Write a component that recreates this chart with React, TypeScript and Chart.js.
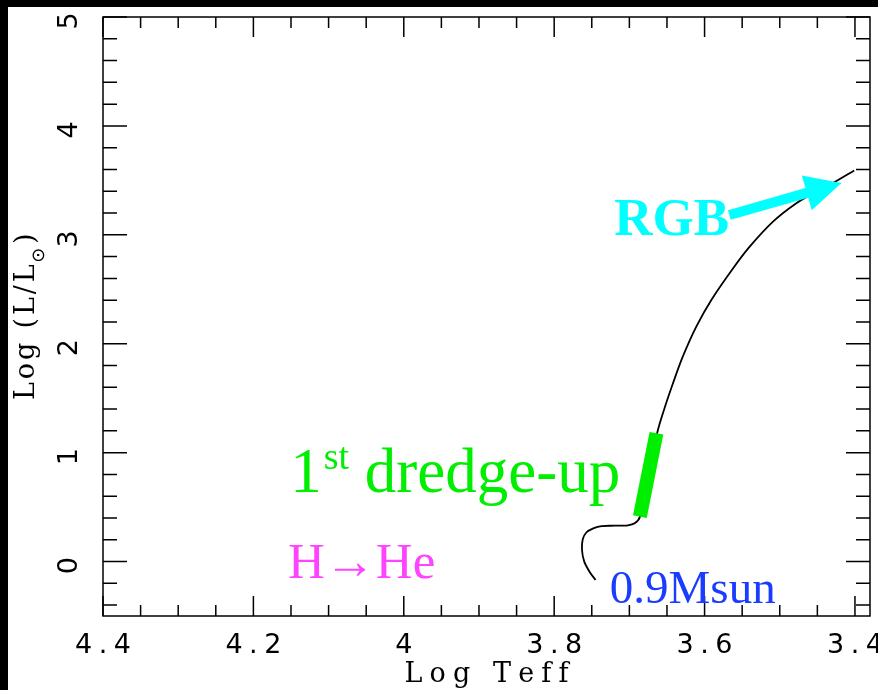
import React, { useEffect, useRef } from 'react';
import { Chart, registerables } from 'chart.js';

Chart.register(...registerables);

// Evolutionary track of a 0.9 Msun star: log Teff vs log(L/Lsun)
const trackLogTeff = [3.745, 3.753, 3.760, 3.763, 3.762, 3.757, 3.748, 3.737, 3.720, 3.702, 3.693, 3.686, 3.663, 3.654, 3.642, 3.629, 3.611, 3.591, 3.562, 3.540, 3.509, 3.478, 3.452, 3.430, 3.401];
const trackLogL = [-0.169, -0.093, -0.001, 0.106, 0.204, 0.269, 0.305, 0.326, 0.329, 0.333, 0.351, 0.412, 1.181, 1.392, 1.637, 1.881, 2.157, 2.402, 2.693, 2.891, 3.121, 3.290, 3.396, 3.473, 3.591];

// 1st dredge-up segment (thick green)
const dredgeLogTeff = [3.686, 3.664];
const dredgeLogL = [0.412, 1.178];

// Axes
const xTickValues = [4.4, 4.2, 4.0, 3.8, 3.6, 3.4];
const xTickLabels = ['4.4', '4.2', '4', '3.8', '3.6', '3.4'];
const yTickValues = [0, 1, 2, 3, 4, 5];
const yTickLabels = ['0', '1', '2', '3', '4', '5'];
const X_MIN = 3.38;
const X_MAX = 4.4;
const Y_MIN = -0.5;
const Y_MAX = 5;
const X_MINOR = 0.05;
const Y_MINOR = 0.2;

function charsOf(t: string) {
  return Array.from(t);
}
function spacedWidth(ctx: CanvasRenderingContext2D, text: string, ls: number) {
  const cs = charsOf(text);
  let w = 0;
  for (const c of cs) w += ctx.measureText(c).width;
  return w + ls * (cs.length - 1);
}
function drawSpaced(ctx: CanvasRenderingContext2D, text: string, x: number, y: number, ls: number) {
  let cx = x;
  for (const c of charsOf(text)) {
    ctx.fillText(c, cx, y);
    cx += ctx.measureText(c).width + ls;
  }
  return cx - ls;
}
function drawSpacedCentered(ctx: CanvasRenderingContext2D, text: string, cx: number, y: number, ls: number) {
  const w = spacedWidth(ctx, text, ls);
  ctx.textAlign = 'left';
  drawSpaced(ctx, text, cx - w / 2, y, ls);
}

const TICK_FONT = '27px "DejaVu Sans"';
const TITLE_FONT = '27px "DejaVu Serif"';

const framePlugin = {
  id: 'pgplotFrame',
  afterDraw(chart: any) {
    const { ctx, chartArea } = chart;
    const { left, right, top, bottom } = chartArea;
    const xs = chart.scales.x;
    const ys = chart.scales.y;
    const X = (v: number) => xs.getPixelForValue(v);
    const Y = (v: number) => ys.getPixelForValue(v);
    ctx.save();

    // frame
    ctx.strokeStyle = '#000';
    ctx.lineWidth = 1.5;
    ctx.strokeRect(left, top, right - left, bottom - top);

    // ticks
    ctx.beginPath();
    const isMajor = (vals: number[], v: number) => vals.some((t) => Math.abs(t - v) < 1e-6);
    for (const v of xTickValues) {
      const p = X(v);
      ctx.moveTo(p, bottom); ctx.lineTo(p, bottom - 20);
      ctx.moveTo(p, top); ctx.lineTo(p, top + 20);
    }
    for (let k = Math.ceil(X_MIN / X_MINOR - 1e-6); k * X_MINOR <= X_MAX + 1e-9; k++) {
      const v = k * X_MINOR;
      if (isMajor(xTickValues, v) || v <= X_MIN + 1e-6 || v >= X_MAX - 1e-6) continue;
      const p = X(v);
      ctx.moveTo(p, bottom); ctx.lineTo(p, bottom - 11);
      ctx.moveTo(p, top); ctx.lineTo(p, top + 11);
    }
    for (const v of yTickValues) {
      const p = Y(v);
      ctx.moveTo(left, p); ctx.lineTo(left + 24, p);
      ctx.moveTo(right, p); ctx.lineTo(right - 24, p);
    }
    for (let k = Math.ceil(Y_MIN / Y_MINOR - 1e-6); k * Y_MINOR <= Y_MAX + 1e-9; k++) {
      const v = k * Y_MINOR;
      if (isMajor(yTickValues, v) || v <= Y_MIN + 1e-6 || v >= Y_MAX - 1e-6) continue;
      const p = Y(v);
      ctx.moveTo(left, p); ctx.lineTo(left + 14, p);
      ctx.moveTo(right, p); ctx.lineTo(right - 14, p);
    }
    ctx.stroke();

    // tick labels
    ctx.fillStyle = '#000';
    ctx.font = TICK_FONT;
    ctx.textBaseline = 'middle';
    xTickValues.forEach((v, i) => {
      drawSpacedCentered(ctx, xTickLabels[i], X(v), bottom + 30, 6.5);
    });
    yTickValues.forEach((v, i) => {
      ctx.save();
      ctx.translate(left - 33, Y(v) + 4);
      ctx.rotate(-Math.PI / 2);
      drawSpacedCentered(ctx, yTickLabels[i], 0, 0, 0);
      ctx.restore();
    });

    // axis titles
    ctx.textBaseline = 'alphabetic';
    ctx.font = TITLE_FONT;
    const xTitle = 'Log Teff';
    const w0 = spacedWidth(ctx, xTitle, 0);
    const lsX = (164 - w0) / (charsOf(xTitle).length - 1);
    drawSpacedCentered(ctx, xTitle, (left + right) / 2, bottom + 66, lsX);

    // y title: Log (L/L_sun)
    ctx.save();
    ctx.translate(left - 69, (top + bottom) / 2);
    ctx.rotate(-Math.PI / 2);
    const partA = 'Log (L/L';
    const partSub = '\u2299';
    const partC = ')';
    ctx.font = TITLE_FONT;
    const wa = spacedWidth(ctx, partA, 0);
    const wc = ctx.measureText(partC).width;
    ctx.font = '18px "DejaVu Sans"';
    const wsub = ctx.measureText(partSub).width;
    const nGaps = charsOf(partA).length + 1;
    const lsY = Math.max(0, (167 - wa - wc - wsub) / nGaps);
    const total = wa + wc + wsub + lsY * nGaps;
    let cx = -total / 2;
    ctx.font = TITLE_FONT;
    cx = drawSpaced(ctx, partA, cx, 0, lsY) + lsY * 0.6;
    ctx.font = '18px "DejaVu Sans"';
    ctx.fillText(partSub, cx, 10);
    cx += wsub + lsY * 1.2;
    ctx.font = TITLE_FONT;
    ctx.fillText(partC, cx, 0);
    ctx.restore();

    // annotations
    ctx.textAlign = 'left';
    ctx.textBaseline = 'alphabetic';

    // RGB label + arrow
    ctx.fillStyle = '#00ffff';
    ctx.font = 'bold 53px "Liberation Serif"';
    ctx.fillText('RGB', X(3.72), Y(3.0));
    const tail = { x: X(3.567), y: Y(3.182) };
    const tip = { x: X(3.418), y: Y(3.476) };
    const dx = tip.x - tail.x;
    const dy = tip.y - tail.y;
    const L = Math.hypot(dx, dy);
    const ux = dx / L, uy = dy / L;
    const px = -uy, py = ux;
    const headLen = 36, headHalf = 18, shaftHalf = 5;
    const bx = tip.x - ux * headLen, by = tip.y - uy * headLen;
    ctx.beginPath();
    ctx.moveTo(tail.x + px * shaftHalf, tail.y + py * shaftHalf);
    ctx.lineTo(bx + px * shaftHalf, by + py * shaftHalf);
    ctx.lineTo(bx + px * headHalf, by + py * headHalf);
    ctx.lineTo(tip.x, tip.y);
    ctx.lineTo(bx - px * headHalf, by - py * headHalf);
    ctx.lineTo(bx - px * shaftHalf, by - py * shaftHalf);
    ctx.lineTo(tail.x - px * shaftHalf, tail.y - py * shaftHalf);
    ctx.closePath();
    ctx.fill();

    // 1st dredge-up
    ctx.fillStyle = '#00ee00';
    let tx = X(4.151);
    const tyBase = Y(0.639);
    ctx.font = '63px "Liberation Serif"';
    ctx.fillText('1', tx, tyBase);
    tx += ctx.measureText('1').width + 2;
    ctx.font = '38px "Liberation Serif"';
    ctx.fillText('st', tx, tyBase - 23);
    tx += ctx.measureText('st').width;
    ctx.font = '63px "Liberation Serif"';
    ctx.fillText(' dredge-up', tx, tyBase);

    // H -> He
    ctx.fillStyle = '#ff44ff';
    ctx.font = '51px "Liberation Serif"';
    ctx.fillText('H\u2192He', X(4.154), Y(-0.151));

    // 0.9Msun
    ctx.fillStyle = '#1a3cff';
    ctx.font = '47px "Liberation Serif"';
    ctx.fillText('0.9Msun', X(3.726), Y(-0.381));

    ctx.restore();
  },
};

export default function App() {
  const canvasRef = useRef<HTMLCanvasElement | null>(null);

  useEffect(() => {
    const canvas = canvasRef.current;
    if (!canvas) return;
    const chart = new Chart(canvas, {
      type: 'scatter',
      data: {
        datasets: [
          {
            label: '1st dredge-up',
            data: dredgeLogTeff.map((x, i) => ({ x, y: dredgeLogL[i] })),
            showLine: true,
            borderColor: '#00ee00',
            borderWidth: 14,
            borderCapStyle: 'butt',
            pointRadius: 0,
          },
          {
            label: '0.9 Msun track',
            data: trackLogTeff.map((x, i) => ({ x, y: trackLogL[i] })),
            showLine: true,
            borderColor: '#000',
            borderWidth: 1.8,
            tension: 0.3,
            pointRadius: 0,
          },
        ],
      },
      options: {
        animation: false,
        responsive: false,
        maintainAspectRatio: false,
        layout: { padding: { left: 0, right: 8, top: 10, bottom: 0 } },
        plugins: { legend: { display: false }, tooltip: { enabled: false } },
        scales: {
          x: {
            type: 'linear',
            reverse: true,
            min: X_MIN,
            max: X_MAX,
            grid: { display: false },
            border: { display: false },
            ticks: { display: false },
            afterBuildTicks: (s: any) => {
              s.ticks = xTickValues.map((v) => ({ value: v }));
            },
            afterFit: (s: any) => {
              s.height = 74;
            },
          },
          y: {
            type: 'linear',
            min: Y_MIN,
            max: Y_MAX,
            grid: { display: false },
            border: { display: false },
            ticks: { display: false },
            afterBuildTicks: (s: any) => {
              s.ticks = yTickValues.map((v) => ({ value: v }));
            },
            afterFit: (s: any) => {
              s.width = 95;
            },
          },
        },
      } as any,
      plugins: [framePlugin],
    });
    return () => chart.destroy();
  }, []);

  return (
    <div style={{ position: 'fixed', left: 0, top: 0, width: 878, height: 690, background: '#000', overflow: 'hidden' }}>
      <div style={{ position: 'absolute', left: 8, top: 7, width: 870, height: 683, background: '#fff' }}>
        <canvas ref={canvasRef} width={870} height={683} style={{ display: 'block', width: 870, height: 683 }} />
      </div>
    </div>
  );
}
